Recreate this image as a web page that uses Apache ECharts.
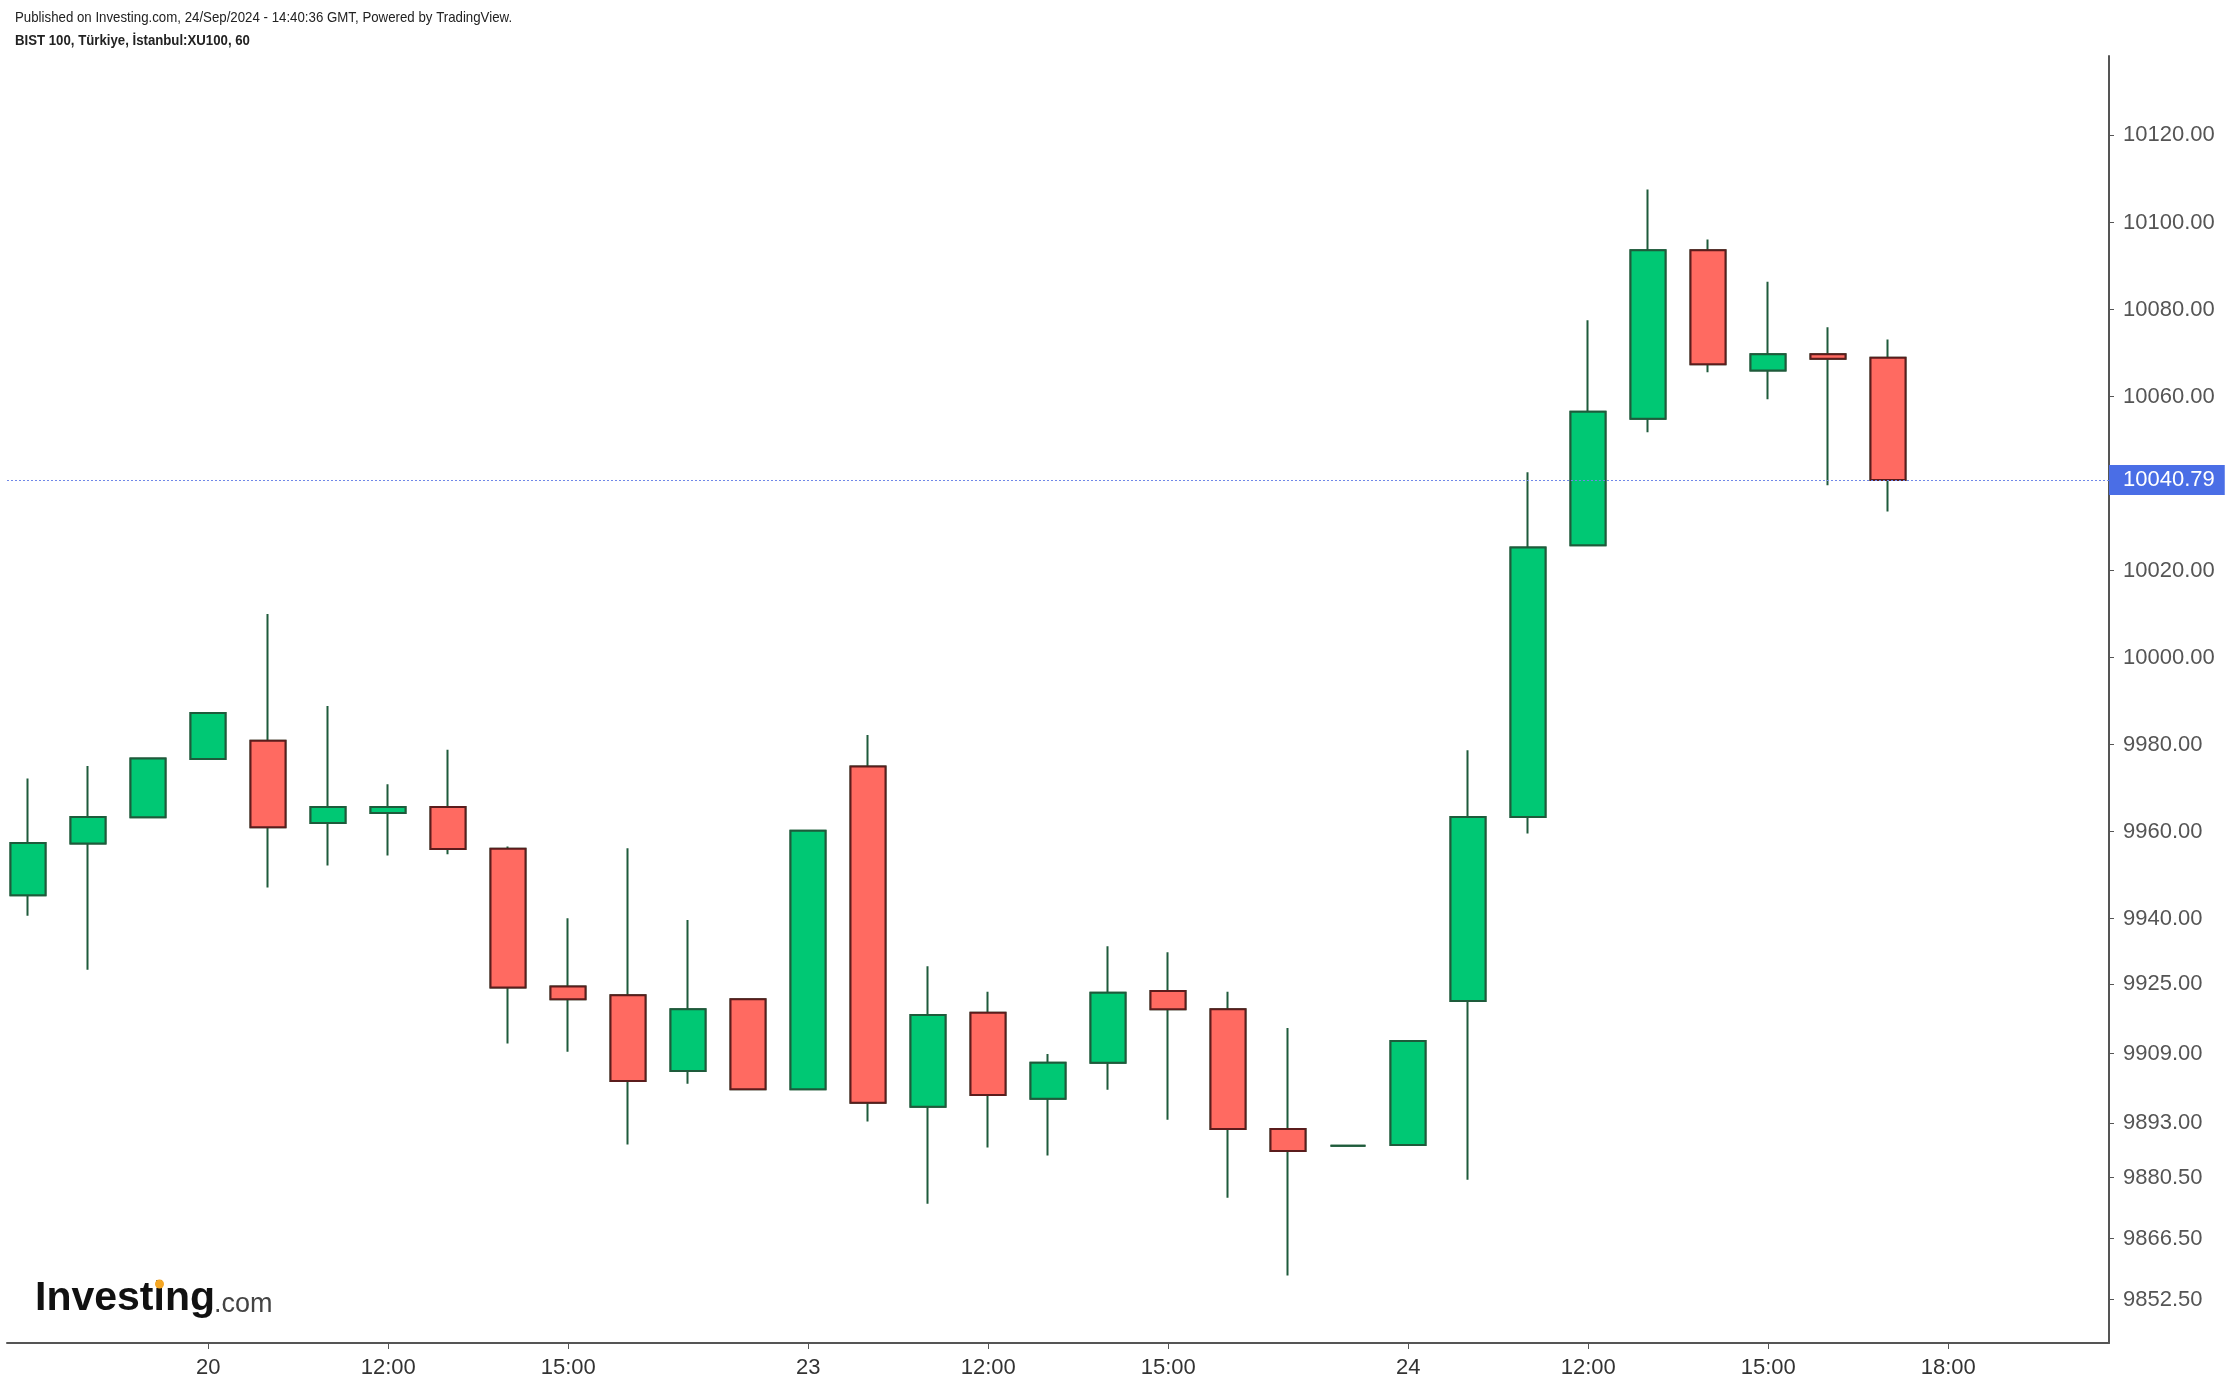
<!DOCTYPE html>
<html>
<head>
<meta charset="utf-8">
<script src="https://cdn.jsdelivr.net/npm/echarts@6/dist/echarts.min.js"></script>
<style>
html,body{margin:0;padding:0;background:#ffffff;}
#chart{width:2230px;height:1386px;}
</style>
</head>
<body>
<div id="chart"></div>
<script>
// ---- Data (hourly candles, BIST 100) ----
const candleTimes = [
  '19 16:00','19 17:00','19 18:00',
  '20 09:00','20 10:00','20 11:00','20 12:00','20 13:00','20 14:00','20 15:00','20 16:00','20 17:00','20 18:00',
  '23 09:00','23 10:00','23 11:00','23 12:00','23 13:00','23 14:00','23 15:00','23 16:00','23 17:00','23 18:00',
  '24 09:00','24 10:00','24 11:00','24 12:00','24 13:00','24 14:00','24 15:00','24 16:00','24 17:00'
];
const openVals = [
  9945.4, 9957.3, 9963.3,
  9976.7, 9980.9, 9962.0, 9964.3, 9965.7, 9956.1, 9924.4, 9922.4, 9905.0, 9921.5,
  9900.8, 9975.0, 9896.8, 9918.4, 9898.6, 9906.9, 9923.4, 9919.2, 9891.7, 9887.8,
  9888.0, 9921.1, 9963.4, 10025.8, 10054.9, 10093.6, 10066.0, 10069.7, 10068.9
];
const closeVals = [
  9957.4, 9963.4, 9976.8,
  9987.3, 9961.0, 9965.7, 9965.7, 9956.0, 9924.2, 9921.5, 9902.7, 9919.2, 9900.8,
  9960.2, 9897.7, 9917.9, 9899.5, 9906.9, 9923.0, 9919.2, 9891.7, 9886.6, 9887.8,
  9911.9, 9963.4, 10025.3, 10056.5, 10093.6, 10067.4, 10069.7, 10068.7, 10040.79
];
const lowVals = [
  9940.7, 9928.3, 9963.3,
  9976.7, 9947.2, 9952.2, 9954.5, 9954.8, 9911.3, 9909.4, 9888.1, 9902.1, 9900.8,
  9900.8, 9893.4, 9874.5, 9887.4, 9885.6, 9900.7, 9893.8, 9875.9, 9858.0, 9887.8,
  9888.0, 9880.0, 9959.6, 10025.8, 10051.8, 10065.6, 10059.4, 10039.6, 10033.6
];
const highVals = [
  9972.2, 9975.1, 9976.8,
  9987.3, 10010.0, 9988.9, 9970.9, 9978.8, 9956.6, 9940.1, 9956.2, 9939.7, 9921.5,
  9960.2, 9982.2, 9929.1, 9923.2, 9908.9, 9933.7, 9932.3, 9923.2, 9914.9, 9887.8,
  9911.9, 9978.7, 10042.6, 10077.5, 10107.6, 10096.1, 10086.4, 10075.9, 10073.1
];
const xTickIndex = [3, 6, 9, 13, 16, 19, 23, 26, 29, 32];
const xTickLabels = ['20', '12:00', '15:00', '23', '12:00', '15:00', '24', '12:00', '15:00', '18:00'];
const yTickValues = [10120, 10100, 10080, 10060, 10020, 10000, 9980, 9960, 9940, 9925, 9909, 9893, 9880.5, 9866.5, 9852.5];
const lastPrice = 10040.79;

// ---- Styles ----
const FONT = "'Liberation Sans', Arial, Helvetica, sans-serif";
const upFill = '#00c874';
const downFill = '#ff6a61';
const upBorder = '#1e5b3b';
const downBorder = '#5b1c1c';

const fullData = candleTimes.map((t, i) => [i, openVals[i], closeVals[i], lowVals[i], highVals[i]]);
const bodyData = candleTimes.map((t, i) => [i, openVals[i], closeVals[i],
  Math.min(openVals[i], closeVals[i]), Math.max(openVals[i], closeVals[i])]);

const chart = echarts.init(document.getElementById('chart'), null, {renderer: 'canvas'});

const option = {
  animation: false,
  backgroundColor: '#ffffff',
  grid: { left: 7, right: 121, top: 56, bottom: 43, outerBoundsMode: 'none' },
  xAxis: {
    type: 'value',
    min: -0.353,
    max: 34.68,
    splitLine: { show: false },
    axisLine: { show: true, onZero: false, lineStyle: { color: '#555555', width: 2 } },
    axisTick: { show: true, customValues: xTickIndex, length: 6, lineStyle: { color: '#555555', width: 1 } },
    axisLabel: {
      customValues: xTickIndex,
      formatter: v => { const k = xTickIndex.indexOf(Math.round(v)); return k >= 0 ? xTickLabels[k] : ''; },
      color: '#333333', fontSize: 22, fontFamily: FONT, margin: 14
    }
  },
  yAxis: {
    type: 'value',
    position: 'right',
    min: 9842.5,
    max: 10138.25,
    scale: true,
    splitLine: { show: false },
    axisLine: { show: true, onZero: false, lineStyle: { color: '#555555', width: 2 } },
    axisTick: { show: true, customValues: yTickValues, length: 5, lineStyle: { color: '#555555', width: 1 } },
    axisLabel: {
      customValues: yTickValues,
      formatter: v => Number(v).toFixed(2),
      color: '#555555', fontSize: 22, fontFamily: FONT, margin: 14
    }
  },
  graphic: [
    { type: 'text', x: 15, y: 18, scaleX: 0.915, silent: true,
      style: { text: 'Published on Investing.com, 24/Sep/2024 - 14:40:36 GMT, Powered by TradingView.',
               font: "14.5px " + FONT, fill: '#222222', textVerticalAlign: 'middle' } },
    { type: 'text', x: 15, y: 41, scaleX: 0.911, silent: true,
      style: { text: 'BIST 100, Türkiye, İstanbul:XU100, 60',
               font: "bold 14.5px " + FONT, fill: '#222222', textVerticalAlign: 'middle' } },
    { type: 'text', x: 35, y: 1299, silent: true,
      style: { text: 'Investing', font: "bold 41px " + FONT, fill: '#111111', textVerticalAlign: 'middle' } },
    { type: 'circle', silent: true, shape: { cx: 159.5, cy: 1284, r: 4.5 }, style: { fill: '#f5a623' } },
    { type: 'text', x: 214, y: 1305, silent: true,
      style: { text: '.com', font: "27px " + FONT, fill: '#444444', textVerticalAlign: 'middle' } }
  ],
  series: [
    {
      name: 'wicks',
      type: 'candlestick',
      data: fullData,
      barWidth: 35,
      silent: true,
      itemStyle: { color: upFill, color0: downFill, borderColor: upBorder, borderColor0: upBorder,
                   borderColorDoji: upBorder, borderWidth: 2 }
    },
    {
      name: 'bodies',
      type: 'candlestick',
      data: bodyData,
      barWidth: 35,
      silent: true,
      itemStyle: { color: upFill, color0: downFill, borderColor: upBorder, borderColor0: downBorder,
                   borderColorDoji: upBorder, borderWidth: 2 },
      markLine: {
        silent: true,
        symbol: ['none', 'none'],
        lineStyle: { type: [2, 2], color: '#7088e8', width: 1 },
        label: {
          show: true, position: 'end', distance: 0,
          formatter: () => lastPrice.toFixed(2),
          color: '#ffffff', backgroundColor: '#4a6ee6',
          fontSize: 22, fontFamily: FONT,
          padding: [4, 10, 4, 14]
        },
        data: [{ yAxis: lastPrice }]
      }
    }
  ]
};
chart.setOption(option);
</script>
</body>
</html>
